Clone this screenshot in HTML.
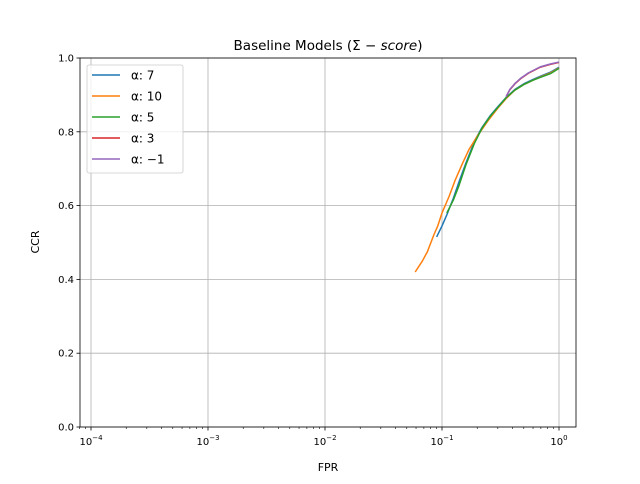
<!DOCTYPE html>
<html><head><meta charset="utf-8"><style>
body{margin:0;background:#fff;font-family:"DejaVu Sans","Liberation Sans",sans-serif}
svg text{font-family:"DejaVu Sans","Liberation Sans",sans-serif}
</style></head><body>
<svg id="chart" width="640" height="480" xmlns="http://www.w3.org/2000/svg"></svg>
<script>
const seriesLabels=["α: 7","α: 10","α: 5","α: 3","α: −1"];
const colors=["#1f77b4","#ff7f0e","#2ca02c","#d62728","#9467bd"];
const fpr7=[0.09,0.1,0.11,0.125,0.14,0.16,0.19,0.22,0.26,0.3,0.353,0.42,0.5,0.6,0.7,0.85,1.0];
const ccr7=[0.515,0.545,0.575,0.62,0.665,0.715,0.775,0.812,0.845,0.868,0.893,0.915,0.93,0.942,0.951,0.962,0.975];
const fpr10=[0.059,0.068,0.075,0.085,0.092,0.1,0.115,0.13,0.15,0.17,0.2,0.25,0.3,0.353,0.42,0.5,0.6,0.7,0.85,1.0];
const ccr10=[0.42,0.45,0.475,0.52,0.545,0.58,0.625,0.67,0.715,0.752,0.788,0.832,0.864,0.89,0.913,0.928,0.94,0.949,0.96,0.973];
const fpr5=[0.11,0.125,0.14,0.16,0.19,0.22,0.26,0.3,0.353,0.42,0.5,0.6,0.7,0.85,1.0];
const ccr5=[0.58,0.615,0.655,0.71,0.77,0.81,0.843,0.866,0.892,0.913,0.928,0.94,0.948,0.958,0.972];
const fpr3=[0.353,0.38,0.42,0.47,0.55,0.69,0.85,1.0];
const ccr3=[0.895,0.914,0.93,0.944,0.959,0.975,0.983,0.988];
const fprM1=[0.353,0.38,0.42,0.47,0.55,0.69,0.85,1.0];
const ccrM1=[0.895,0.915,0.931,0.945,0.96,0.976,0.984,0.989];
const xTicks=[-4,-3,-2,-1,0];
const yTicks=[0,0.2,0.4,0.6,0.8,1.0];
const yTickLabels=["0.0","0.2","0.4","0.6","0.8","1.0"];
const L=80,R=576,T=58,B=427;
const xs=v=>559+117*Math.log10(v);
const ys=v=>B-(B-T)*v;
const svg=document.getElementById('chart');
const NS="http://www.w3.org/2000/svg";
function mk(tag,attrs,parent){const e=document.createElementNS(NS,tag);for(const k in attrs)e.setAttribute(k,attrs[k]);(parent||svg).appendChild(e);return e;}
xTicks.forEach((t,i)=>{const x=xs(Math.pow(10,t));
const g=mk('line',{x1:x,x2:x,y1:T,y2:B,stroke:'#b0b0b0','stroke-width':0.8});

mk('line',{x1:x,x2:x,y1:B,y2:B+3.5,stroke:'#000','stroke-width':0.8});
const tx=mk('text',{x:x,y:B+18,'font-size':10,'text-anchor':'middle'});

tx.innerHTML='10<tspan dy="-5" font-size="7">'+(t<0?'−'+(-t):t)+'</tspan>';
for(let k=2;k<10&&t<1;k++){const mx=xs(k*Math.pow(10,t));if(mx>R)break;mk('line',{x1:mx,x2:mx,y1:B,y2:B+2,stroke:'#000','stroke-width':0.6});}});
for(let k=8;k<10;k++){mk('line',{x1:xs(k*1e-5),x2:xs(k*1e-5),y1:B,y2:B+2,stroke:'#000','stroke-width':0.6});}
yTicks.forEach((t,i)=>{const y=ys(t);
const g=mk('line',{x1:L,x2:R,y1:y,y2:y,stroke:'#b0b0b0','stroke-width':0.8});

mk('line',{x1:L-3.5,x2:L,y1:y,y2:y,stroke:'#000','stroke-width':0.8});
const tx=mk('text',{x:L-6,y:y+3.5,'font-size':10,'text-anchor':'end'});tx.textContent=yTickLabels[i];
});
const data=[[fpr7,ccr7],[fpr10,ccr10],[fpr5,ccr5],[fpr3,ccr3],[fprM1,ccrM1]];
[0,1,2,3,4].forEach(i=>{const [fx,fy]=data[i];
const p=mk('polyline',{points:fx.map((v,j)=>xs(v)+','+ys(fy[j])).join(' '),fill:'none',stroke:colors[i],'stroke-width':1.5,'stroke-linejoin':'round'});
});
const fr=mk('rect',{x:L,y:T,width:R-L,height:B-T,fill:'none',stroke:'#000','stroke-width':0.8});

const lg=mk('g',{});
mk('rect',{x:87,y:65,width:96,height:108,rx:2,fill:'#fff','fill-opacity':0.8,stroke:'#ccc','stroke-width':0.8},lg);
seriesLabels.forEach((s,i)=>{const y=75+21*i;
mk('line',{x1:92,x2:120,y1:y,y2:y,stroke:colors[i],'stroke-width':1.5},lg);
const t=mk('text',{x:131,y:y+4.5,'font-size':12},lg);t.textContent=s;
});
const title=mk('text',{x:328,y:50,'font-size':13.5,'text-anchor':'middle'});
title.innerHTML='Baseline Models (Σ − <tspan font-style="italic">score</tspan>)';

const xl=mk('text',{x:328,y:471,'font-size':11,'text-anchor':'middle'});xl.textContent='FPR';

const yl=mk('text',{x:39,y:242,'font-size':11,'text-anchor':'middle',transform:'rotate(-90 39 242)'});yl.textContent='CCR';

</script>
</body></html>
